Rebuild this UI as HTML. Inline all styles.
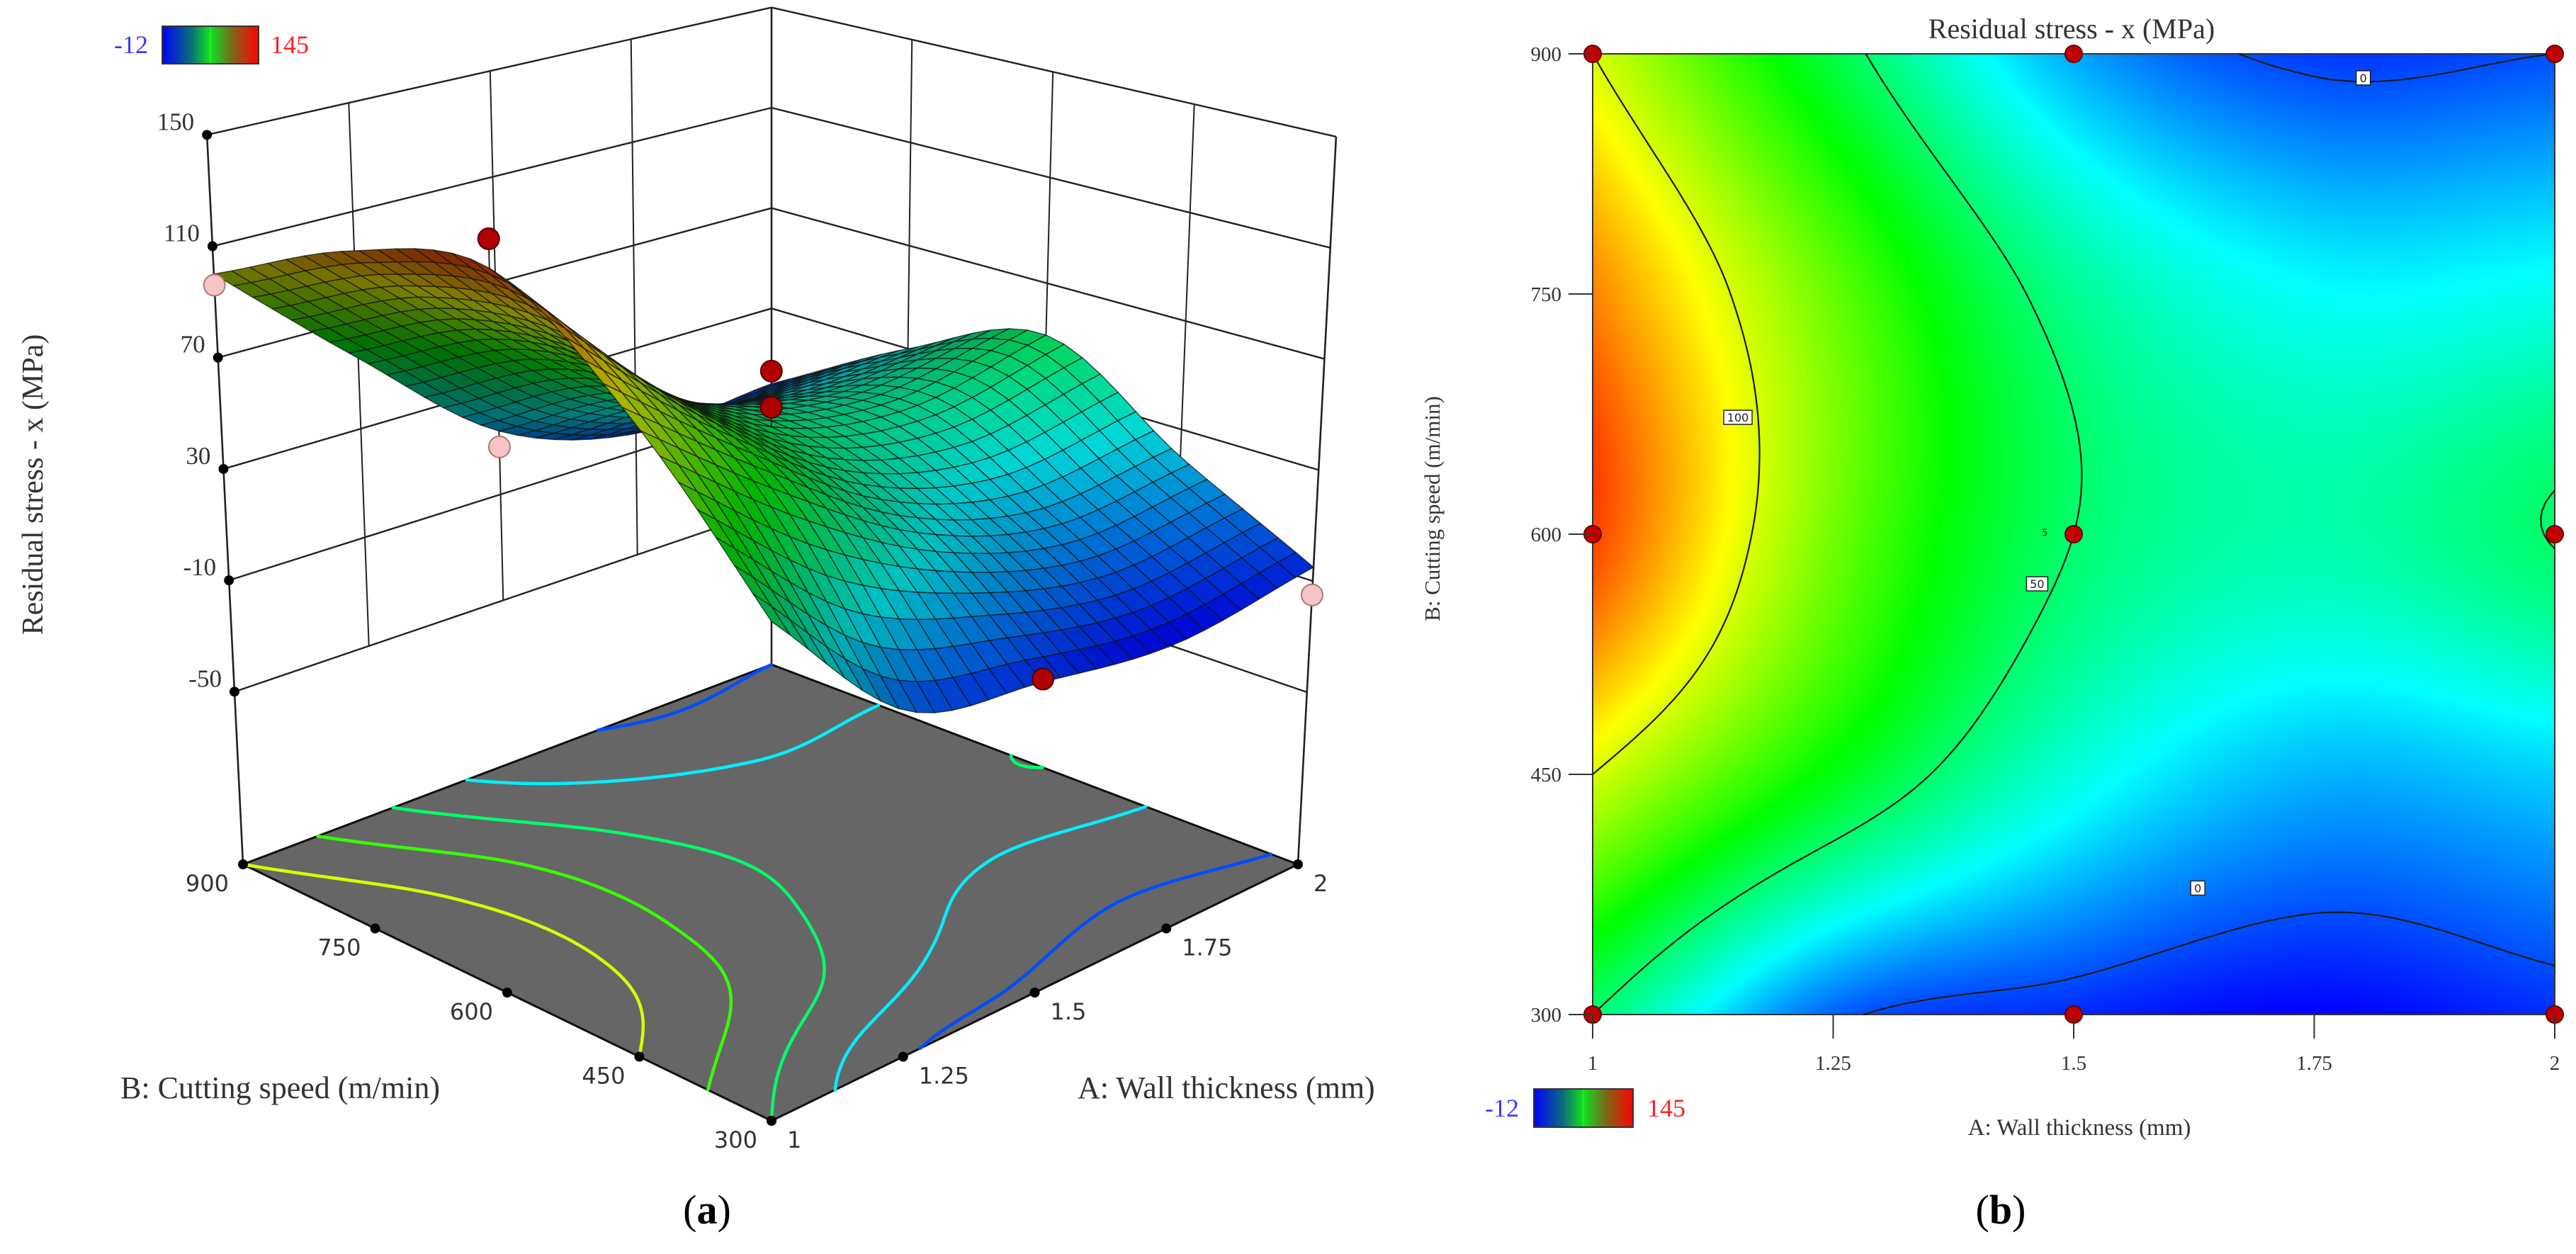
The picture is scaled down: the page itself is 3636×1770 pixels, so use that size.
<!DOCTYPE html>
<html><head><meta charset="utf-8">
<style>
html,body{margin:0;padding:0;background:#fff;}
#wrap{position:relative;width:3636px;height:1770px;overflow:hidden;background:#fff;}
#cfill{position:absolute;left:2248px;top:76px;width:1358px;height:1356px;}
#fig{position:absolute;left:0;top:0;}
.serif{font-family:"Liberation Serif","DejaVu Serif",serif;}
.sans{font-family:"DejaVu Sans","Liberation Sans",sans-serif;}
</style></head>
<body>
<div id="wrap">
<canvas id="cfill" width="340" height="339"></canvas>
<svg id="fig" width="3636" height="1770" xmlns="http://www.w3.org/2000/svg">
  <defs>
    <linearGradient id="cb3d" x1="0" x2="1" y1="0" y2="0">
      <stop offset="0" stop-color="#0000ff"/><stop offset="0.3" stop-color="#0a6f7a"/>
      <stop offset="0.49" stop-color="#11dd22"/><stop offset="0.5" stop-color="#22ff22"/><stop offset="0.51" stop-color="#11dd22"/>
      <stop offset="0.72" stop-color="#7a6a1a"/><stop offset="1" stop-color="#ff0000"/>
    </linearGradient>
  </defs>
  <g id="panelA">
    <g id="walls"></g>
    <g id="floor"></g>
    <g id="surf"></g>
    <g id="dpts"></g>
    <g id="labels3d"></g>
    <g>
      <rect x="229" y="37" width="136" height="53" fill="url(#cb3d)" stroke="#333" stroke-width="2"/>
      <text x="185" y="75" class="serif" font-size="36" fill="#3a3aff" text-anchor="middle">-12</text>
      <text x="409" y="75" class="serif" font-size="36" fill="#ff2020" text-anchor="middle">145</text>
    </g>
    <text transform="translate(60,684) rotate(-90)" class="serif" font-size="42" fill="#333" text-anchor="middle">Residual stress - x (MPa)</text>
    <text x="170" y="1550" class="serif" font-size="44" fill="#333">B: Cutting speed (m/min)</text>
    <text x="1521" y="1550" class="serif" font-size="44" fill="#333">A: Wall thickness (mm)</text>
    <text x="998" y="1727" class="serif" font-size="58" fill="#000" text-anchor="middle">(<tspan font-weight="bold">a</tspan>)</text>
  </g>
  <g id="panelB">
    <text x="2924" y="54" class="serif" font-size="40" fill="#333" text-anchor="middle">Residual stress - x (MPa)</text>
    <rect x="2248" y="76" width="1358" height="1356" fill="none" stroke="#333" stroke-width="2"/>
    <g id="clines"></g>
    <g id="clabels"></g>
    <g id="cpts"></g>
    <g id="caxes"></g>
    <text transform="translate(2032,718) rotate(-90)" class="serif" font-size="31" fill="#333" text-anchor="middle">B: Cutting speed (m/min)</text>
    <text x="2935" y="1602" class="serif" font-size="33" fill="#333" text-anchor="middle">A: Wall thickness (mm)</text>
    <g>
      <rect x="2165" y="1537" width="140" height="54" fill="url(#cb3d)" stroke="#333" stroke-width="2"/>
      <text x="2120" y="1576" class="serif" font-size="36" fill="#3a3aff" text-anchor="middle">-12</text>
      <text x="2352" y="1576" class="serif" font-size="36" fill="#ff2020" text-anchor="middle">145</text>
    </g>
    <text x="2824" y="1727" class="serif" font-size="58" fill="#000" text-anchor="middle">(<tspan font-weight="bold">b</tspan>)</text>
  </g>
</svg>
</div>
<script>
// ---- data ----
const A_VALS=[1,1.25,1.5,1.75,2];
const B_VALS=[300,450,600,750,900];
const Z_GRID=[
 [50,3,-6,-12,-5],
 [100,64,32,16,20],
 [135,84,50,40,50.5],
 [125,82,44,28,30],
 [100,56,14,-3,0]
];
const Z_TICKS=[150,110,70,30,-10,-50];
const A_TICKS=[1,1.25,1.5,1.75,2];
const A_TICK_LABELS=['1','1.25','1.5','1.75','2'];
const B_TICKS=[300,450,600,750,900];
const B_TICK_LABELS=['300','450','600','750','900'];
const DP_A=[1,1,1.5,1.5,1.5,1.5,2];
const DP_B=[900,600,900,600,600,300,300];
const DP_Z=[96,145,8,70,57,-5,-15];
const CP_A=[1,1.5,2,1,1.5,2,1,1.5,2];
const CP_B=[300,300,300,600,600,600,900,900,900];
const LEVELS_3D=[0,25,50,75,100];
const LEVELS_2D=[0,50,100];
const LBL_A=[1.151,1.462,1.801,1.629];
const LBL_B=[673,569,885,379];
const LBL_T=['100','50','0','0'];
const ZMIN=-12, ZMAX=145;

const NS='http://www.w3.org/2000/svg';
function mk(tag,attrs,parent){const e=document.createElementNS(NS,tag);for(const k in attrs)e.setAttribute(k,attrs[k]);parent.appendChild(e);return e;}

function g(r,c){
 if(c<0) return 2*g(r,0)-g(r,1);
 if(c>4) return 2*g(r,4)-g(r,3);
 if(r<0) return 2*g(0,c)-g(1,c);
 if(r>4) return 2*g(4,c)-g(3,c);
 return Z_GRID[r][c];
}
function cr(p0,p1,p2,p3,t){return 0.5*((2*p1)+(-p0+p2)*t+(2*p0-5*p1+4*p2-p3)*t*t+(-p0+3*p1-3*p2+p3)*t*t*t);}
function zAt(A,B){
 const x=(A-A_VALS[0])/(A_VALS[1]-A_VALS[0]);
 const y=(B-B_VALS[0])/(B_VALS[1]-B_VALS[0]);
 let i=Math.max(0,Math.min(3,Math.floor(x))), j=Math.max(0,Math.min(3,Math.floor(y)));
 const tx=x-i, ty=y-j; const rows=[];
 for(let k=-1;k<3;k++){const r=j+k;rows.push(cr(g(r,i-1),g(r,i),g(r,i+1),g(r,i+2),tx));}
 return cr(rows[0],rows[1],rows[2],rows[3],ty);
}
const STOPS=[[0,0,255],[0,255,255],[0,255,0],[255,255,0],[255,0,0]];
function cmap(z){
 let f=(z-ZMIN)/(ZMAX-ZMIN); f=Math.max(0,Math.min(1,f));
 const s=f*4; const i=Math.min(3,Math.floor(s)); const t=s-i;
 return [0,1,2].map(k=>STOPS[i][k]+(STOPS[i+1][k]-STOPS[i][k])*t);
}
function rgb(c,m){m=m||1;return 'rgb('+c.map(v=>Math.round(Math.max(0,Math.min(255,v*m)))).join(',')+')';}

function march(nx,ny,level){
 const A0=A_VALS[0],A1=A_VALS[4],B0=B_VALS[0],B1=B_VALS[4];
 const vals=[];
 for(let j=0;j<=ny;j++){const row=[];for(let i=0;i<=nx;i++)row.push(zAt(A0+(A1-A0)*i/nx,B0+(B1-B0)*j/ny));vals.push(row);}
 const segs=[];
 for(let j=0;j<ny;j++)for(let i=0;i<nx;i++){
  const c=[[i,j],[i+1,j],[i+1,j+1],[i,j+1]];
  const v=c.map(p=>vals[p[1]][p[0]]);
  const pts=[];
  for(let e=0;e<4;e++){const a=e,b=(e+1)%4;
   if((v[a]>=level)!==(v[b]>=level)){const t=(level-v[a])/(v[b]-v[a]);
    const gx=c[a][0]+(c[b][0]-c[a][0])*t, gy=c[a][1]+(c[b][1]-c[a][1])*t;
    pts.push([A0+(A1-A0)*gx/nx,B0+(B1-B0)*gy/ny]);}}
  if(pts.length>=2)segs.push([pts[0],pts[1]]);
  if(pts.length===4)segs.push([pts[2],pts[3]]);
 }
 return segs;
}

// ================= Panel B (contour) =================
const PX0=2248,PX1=3606,PY0=76,PY1=1432;
function xS(A){return PX0+(A-A_VALS[0])/(A_VALS[4]-A_VALS[0])*(PX1-PX0);}
function yS(B){return PY1-(B-B_VALS[0])/(B_VALS[4]-B_VALS[0])*(PY1-PY0);}
(function(){
 const cv=document.getElementById('cfill');const ctx=cv.getContext('2d');
 const W=cv.width,H=cv.height;const img=ctx.createImageData(W,H);
 for(let py=0;py<H;py++)for(let px=0;px<W;px++){
  const A=A_VALS[0]+(px+0.5)/W*(A_VALS[4]-A_VALS[0]);
  const B=B_VALS[4]-(py+0.5)/H*(B_VALS[4]-B_VALS[0]);
  const c=cmap(zAt(A,B));const k=(py*W+px)*4;
  img.data[k]=c[0];img.data[k+1]=c[1];img.data[k+2]=c[2];img.data[k+3]=255;}
 ctx.putImageData(img,0,0);
})();
(function(){
 const gl=document.getElementById('clines');
 LEVELS_2D.forEach(lv=>{
  const segs=march(120,120,lv);let d='';
  segs.forEach(s=>{d+='M'+xS(s[0][0]).toFixed(1)+','+yS(s[0][1]).toFixed(1)+'L'+xS(s[1][0]).toFixed(1)+','+yS(s[1][1]).toFixed(1);});
  const p=mk('path',{d:d,stroke:'#1a1a1a','stroke-width':2.2,fill:'none','stroke-linecap':'round'},gl);
  
  
 });
 const glb=document.getElementById('clabels');
 for(let i=0;i<LBL_T.length;i++){
  const x=xS(LBL_A[i]),y=yS(LBL_B[i]);const w=10+LBL_T[i].length*10;
  const r=mk('rect',{x:x-w/2,y:y-10,width:w,height:20,fill:'#fff',stroke:'#222','stroke-width':1.5},glb);
  
  
  const t=mk('text',{x:x,y:y+6,'font-size':16,'text-anchor':'middle',class:'sans',fill:'#222'},glb);
  t.textContent=LBL_T[i];
  
  
 }
 const t5=mk('text',{x:xS(1.47),y:yS(601)+5,'font-size':13,'text-anchor':'middle',class:'sans',fill:'#222'},glb);
 t5.textContent='5';
 
 
 const gp=document.getElementById('cpts');
 for(let i=0;i<CP_A.length;i++){
  const c=mk('circle',{cx:xS(CP_A[i]),cy:yS(CP_B[i]),r:12,fill:'#c00000',stroke:'#600','stroke-width':2},gp);
  
  
 }
 const ga=document.getElementById('caxes');
 B_TICKS.forEach((b,i)=>{
  const l=mk('line',{x1:PX0-34,x2:PX0,y1:yS(b),y2:yS(b),stroke:'#333','stroke-width':2},ga);
  
  
  const t=mk('text',{x:PX0-44,y:yS(b)+10,'font-size':29,'text-anchor':'end',class:'serif',fill:'#333'},ga);
  t.textContent=B_TICK_LABELS[i];
  
  
 });
 A_TICKS.forEach((a,i)=>{
  const l=mk('line',{x1:xS(a),x2:xS(a),y1:PY1,y2:PY1+34,stroke:'#333','stroke-width':2},ga);
  
  
  const t=mk('text',{x:xS(a),y:PY1+78,'font-size':29,'text-anchor':'middle',class:'serif',fill:'#333'},ga);
  t.textContent=A_TICK_LABELS[i];
  
  
 });
})();

// ================= Panel A (3D) =================
const ZF=-112, ZTOP=150;
const CORN={f:[1089,1582],r:[1832,1220],l:[343,1220],b:[1089,938]};
const SC={f:4.35,r:3.92,l:3.93,b:3.54};
const LEAN={f:0,r:0.0525,l:-0.0494,b:0};
function bil(u,v,o){return (1-u)*(1-v)*o.f+u*(1-v)*o.r+(1-u)*v*o.l+u*v*o.b;}
function proj(A,B,z){
 const u=(A-A_VALS[0])/(A_VALS[4]-A_VALS[0]), v=(B-B_VALS[0])/(B_VALS[4]-B_VALS[0]);
 const px=bil(u,v,{f:CORN.f[0],r:CORN.r[0],l:CORN.l[0],b:CORN.b[0]});
 const py=bil(u,v,{f:CORN.f[1],r:CORN.r[1],l:CORN.l[1],b:CORN.b[1]});
 const h=(z-ZF)*bil(u,v,SC);
 return [px+bil(u,v,LEAN)*h,py-h];
}
function P(p){return p[0].toFixed(1)+','+p[1].toFixed(1);}
(function(){
 const gw=document.getElementById('walls');
 const Amin=A_VALS[0],Amax=A_VALS[4],Bmin=B_VALS[0],Bmax=B_VALS[4];
 function line(p,q,w,name){const l=mk('line',{x1:p[0],y1:p[1],x2:q[0],y2:q[1],stroke:'#222','stroke-width':w},gw);
  
  }
 Z_TICKS.forEach(z=>{
  line(proj(Amin,Bmax,z),proj(Amax,Bmax,z),2.4,'wall-gridline-h');
  line(proj(Amax,Bmax,z),proj(Amax,Bmin,z),2.4,'wall-gridline-h');
 });
 A_TICKS.slice(1,4).forEach(a=>line(proj(a,Bmax,Z_TICKS[5]),proj(a,Bmax,Z_TICKS[0]),2,'wall-gridline-v'));
 B_TICKS.slice(1,4).forEach(b=>line(proj(Amax,b,Z_TICKS[5]),proj(Amax,b,Z_TICKS[0]),2,'wall-gridline-v'));
 line(proj(Amin,Bmax,ZF),proj(Amin,Bmax,ZTOP),2.6,'z-axis-line');
 line(proj(Amax,Bmax,ZF),proj(Amax,Bmax,ZTOP),2.6,'back-corner-line');
 line(proj(Amax,Bmin,ZF),proj(Amax,Bmin,ZTOP),2.6,'right-corner-line');

 const gf=document.getElementById('floor');
 const fl=mk('path',{d:'M'+P(proj(Amin,Bmin,ZF))+'L'+P(proj(Amax,Bmin,ZF))+'L'+P(proj(Amax,Bmax,ZF))+'L'+P(proj(Amin,Bmax,ZF))+'Z',fill:'#666666',stroke:'#111','stroke-width':3},gf);
 
 
 LEVELS_3D.forEach(lv=>{
  const segs=march(80,80,lv);let d='';
  segs.forEach(s=>{d+='M'+P(proj(s[0][0],s[0][1],ZF))+'L'+P(proj(s[1][0],s[1][1],ZF));});
  const p=mk('path',{d:d,stroke:rgb(cmap(lv)),'stroke-width':4.5,fill:'none','stroke-linecap':'round'},gf);
  
  
 });

 const gs=document.getElementById('surf');
 const N=30;const Zs=[];
 for(let j=0;j<=N;j++){const r=[];for(let i=0;i<=N;i++)r.push(zAt(Amin+(Amax-Amin)*i/N,Bmin+(Bmax-Bmin)*j/N));Zs.push(r);}
 const quads=[];
 for(let j=0;j<N;j++)for(let i=0;i<N;i++)quads.push([i,j]);
 quads.sort((p,q)=>(q[0]+q[1])-(p[0]+p[1]));
 const L=[-0.35,-0.55,0.9];const ln=Math.hypot(...L);L[0]/=ln;L[1]/=ln;L[2]/=ln;
 quads.forEach(([i,j])=>{
  const A0=Amin+(Amax-Amin)*i/N,A1=Amin+(Amax-Amin)*(i+1)/N,B0=Bmin+(Bmax-Bmin)*j/N,B1=Bmin+(Bmax-Bmin)*(j+1)/N;
  const z00=Zs[j][i],z10=Zs[j][i+1],z11=Zs[j+1][i+1],z01=Zs[j+1][i];
  const zc=(z00+z10+z11+z01)/4;
  const s=0.9/262;
  const dzu=((z10-z00)+(z11-z01))/2*s*N, dzv=((z01-z00)+(z11-z10))/2*s*N;
  const n=[-dzu,-dzv,1];const nn=Math.hypot(...n);
  let dot=(n[0]*L[0]+n[1]*L[1]+n[2]*L[2])/nn;
  const m=0.22+0.65*Math.max(0,dot);
  const d='M'+P(proj(A0,B0,z00))+'L'+P(proj(A1,B0,z10))+'L'+P(proj(A1,B1,z11))+'L'+P(proj(A0,B1,z01))+'Z';
  const q=mk('path',{d:d,fill:rgb(cmap(zc),m),stroke:'#111','stroke-width':1.4,'stroke-opacity':0.75,'stroke-linejoin':'round'},gs);
  
  
 });

 const gd=document.getElementById('dpts');
 for(let k=0;k<DP_A.length;k++){
  const pred=zAt(DP_A[k],DP_B[k]);const above=DP_Z[k]>pred;
  const p=proj(DP_A[k],DP_B[k],DP_Z[k]);
  if(above){const q=proj(DP_A[k],DP_B[k],pred);
   const st=mk('line',{x1:p[0],y1:p[1],x2:q[0],y2:q[1],stroke:'#222','stroke-width':2},gd);
   
   }
  const c=mk('circle',{cx:p[0],cy:p[1],r:15,fill:above?'#b00000':'#f6c4c4',stroke:above?'#500':'#a77','stroke-width':2},gd);
  
  
 }

 const gl=document.getElementById('labels3d');
 function dot(p,name){const c=mk('circle',{cx:p[0],cy:p[1],r:7,fill:'#000'},gl);
  
  }
 Z_TICKS.forEach(z=>{
  const p=proj(Amin,Bmax,z);dot(p,'z-tick');
  const t=mk('text',{x:p[0]-18,y:p[1]-7,'font-size':35,'text-anchor':'end',class:'serif',fill:'#333'},gl);
  t.textContent=String(z);
  
  
 });
 B_TICKS.forEach((b,i)=>{
  const p=proj(Amin,b,ZF);dot(p,'b-tick');
  const t=mk('text',{x:p[0]-20,y:p[1]+38,'font-size':32,'text-anchor':'end',class:'sans',fill:'#333'},gl);
  t.textContent=B_TICK_LABELS[i];
  
  
 });
 A_TICKS.forEach((a,i)=>{
  const p=proj(a,Bmin,ZF);dot(p,'a-tick');
  const t=mk('text',{x:p[0]+22,y:p[1]+38,'font-size':32,'text-anchor':'start',class:'sans',fill:'#333'},gl);
  t.textContent=A_TICK_LABELS[i];
  
  
 });
})();
</script>
</body></html>
